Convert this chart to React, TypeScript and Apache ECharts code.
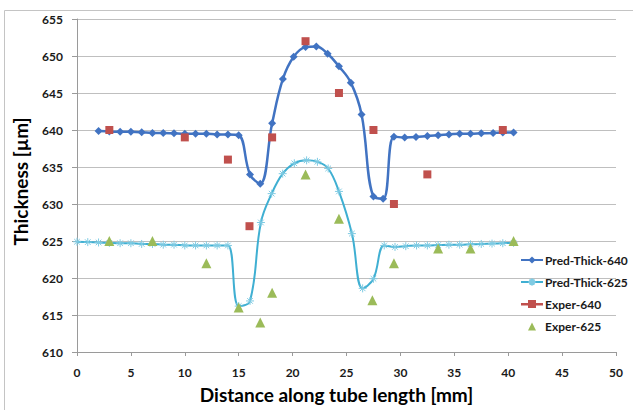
import React, { useEffect, useRef } from "react";
import * as echarts from "echarts";

const seriesNames = ["Pred-Thick-640", "Pred-Thick-625", "Exper-640", "Exper-625"];

const predThick640: [number, number][] = [
  [2, 639.85], [3, 639.8], [4, 639.75], [5, 639.75], [6, 639.7], [7, 639.6], [8, 639.6],
  [9, 639.55], [10, 639.5], [11, 639.5], [12, 639.5], [13, 639.4], [14, 639.4], [15, 639.3],
  [16.05, 634.0], [17.0, 632.75], [18.1, 640.9], [19.1, 646.9], [20.1, 649.9], [21.2, 651.2],
  [22.2, 651.3], [23.25, 650.3], [24.3, 648.6], [25.4, 646.4], [26.4, 642.1], [27.5, 631.0],
  [28.4, 630.7], [29.4, 639.1], [30.4, 639.0], [31.45, 639.05], [32.5, 639.2], [33.5, 639.3],
  [34.5, 639.4], [35.5, 639.5], [36.5, 639.5], [37.5, 639.55], [38.6, 639.6], [39.5, 639.65],
  [40.5, 639.65],
];

const predThick625: [number, number][] = [
  [0, 624.9], [1, 624.85], [2, 624.8], [3, 624.75], [4, 624.7], [5, 624.7], [6, 624.6],
  [7, 624.6], [8, 624.5], [9, 624.5], [10, 624.4], [11, 624.4], [12, 624.4], [13, 624.4],
  [14, 624.4], [15.0, 616.2], [16.05, 616.9], [17.06, 627.5], [18.06, 631.4], [19.08, 634.1],
  [20.16, 635.5], [21.3, 635.9], [22.3, 635.7], [23.3, 634.8], [24.3, 631.7], [25.5, 626.0],
  [26.5, 618.6], [27.5, 619.9], [28.5, 624.4], [29.5, 624.2], [30.5, 624.3], [31.5, 624.4],
  [32.5, 624.4], [33.5, 624.45], [34.5, 624.5], [35.5, 624.5], [36.5, 624.55], [37.5, 624.6],
  [38.5, 624.65], [39.5, 624.7], [40.5, 624.75],
];

const exper640: [number, number][] = [
  [3, 640], [10, 639], [14, 636], [16, 627], [18.1, 639], [21.2, 652], [24.3, 645],
  [27.5, 640], [29.4, 630], [32.5, 634], [39.5, 640],
];

const exper625: [number, number][] = [
  [3, 625], [7, 625], [12, 622], [15, 616], [17, 614], [18.1, 618], [21.2, 634],
  [24.3, 628], [27.4, 617], [29.4, 622], [33.5, 624], [36.5, 624], [40.5, 625],
];

const xTicks = { min: 0, max: 50, interval: 5 };
const yTicks = { min: 610, max: 655, interval: 5 };

const BLUE = "#4173C2";
const CYAN = "#3FAFD2";
const RED = "#C0504D";
const GREEN = "#9BBB59";
const FONT = "Lato, 'Open Sans', sans-serif";

const asterisk =
  "path://M0,5 L10,5 M5,0 L5,10 M1.5,1.5 L8.5,8.5 M8.5,1.5 L1.5,8.5";
const lineSquareIcon =
  "path://M0,3.6 L22,3.6 L22,5.9 L0,5.9 Z M7,0.5 L15,0.5 L15,8.5 L7,8.5 Z";
const smallTriangle = "path://M0,0 L22,0 L22,0.01 L0,0.01 Z M7,9 L11,1 L15,9 Z";

export default function App() {
  const ref = useRef<HTMLDivElement>(null);
  useEffect(() => {
    if (!ref.current) return;
    const chart = echarts.init(ref.current, undefined, { renderer: "svg" });
    chart.setOption({
      animation: false,
      backgroundColor: "#ffffff",
      textStyle: { fontFamily: FONT },
      grid: { left: 77, right: 17, top: 19, bottom: 58, containLabel: false },
      graphic: [
        {
          type: "rect",
          shape: { x: 4.5, y: 10.5, width: 700, height: 500 },
          style: { fill: "none", stroke: "#c4c4c4", lineWidth: 1 },
          silent: true,
          z: -10,
        },
      ],
      legend: {
        orient: "vertical",
        left: 520,
        top: 253,
        itemWidth: 22,
        itemHeight: 9,
        itemGap: 8,
        padding: 0,
        symbolKeepAspect: true,
        textStyle: {
          fontFamily: FONT,
          fontWeight: "bold",
          fontSize: 12,
          color: "#1a1a1a",
          lineHeight: 14,
          padding: [0, 0, 0, -3],
        },
        data: [
          { name: seriesNames[0] },
          { name: seriesNames[1] },
          { name: seriesNames[2], icon: lineSquareIcon, itemStyle: { color: RED } },
          { name: seriesNames[3], icon: smallTriangle, itemStyle: { color: GREEN } },
        ],
      },
      xAxis: {
        type: "value",
        min: xTicks.min,
        max: xTicks.max,
        interval: xTicks.interval,
        name: "Distance along tube length [mm]",
        nameLocation: "middle",
        nameGap: 33,
        nameTextStyle: {
          fontFamily: FONT,
          fontWeight: "bold",
          fontSize: 19,
          color: "#000",
          padding: [0, 20, 0, 0],
        },
        axisLine: { show: true, onZero: false, lineStyle: { color: "#9a9a9a", width: 1 } },
        axisTick: { show: true, inside: false, length: 4, lineStyle: { color: "#9a9a9a" } },
        axisLabel: {
          margin: 14,
          fontFamily: FONT,
          fontWeight: "bold",
          fontSize: 12,
          color: "#1a1a1a",
        },
        splitLine: { show: false },
      },
      yAxis: {
        type: "value",
        min: yTicks.min,
        max: yTicks.max,
        interval: yTicks.interval,
        name: "Thickness [µm]",
        nameLocation: "middle",
        nameGap: 47,
        nameRotate: 90,
        nameTextStyle: {
          fontFamily: FONT,
          fontWeight: "bold",
          fontSize: 19,
          color: "#000",
          padding: [0, 0, 0, 8],
        },
        axisLine: { show: true, lineStyle: { color: "#9a9a9a", width: 1 } },
        axisTick: { show: true, inside: false, length: 5, lineStyle: { color: "#9a9a9a" } },
        axisLabel: {
          margin: 14,
          fontFamily: FONT,
          fontWeight: "bold",
          fontSize: 12,
          color: "#1a1a1a",
        },
        splitLine: { show: true, lineStyle: { color: "#bfbfbf", width: 1 } },
      },
      series: [
        {
          name: seriesNames[0],
          type: "line",
          data: predThick640,
          smooth: 0.4,
          symbol: "diamond",
          symbolSize: 8,
          lineStyle: { color: BLUE, width: 2.5 },
          itemStyle: { color: BLUE },
          z: 2,
        },
        {
          name: seriesNames[1],
          type: "line",
          data: predThick625,
          smooth: 0.4,
          symbol: asterisk,
          symbolSize: 8,
          lineStyle: { color: CYAN, width: 2 },
          itemStyle: { color: CYAN, borderColor: "#7fcbe3", borderWidth: 1 },
          z: 2,
        },
        {
          name: seriesNames[2],
          type: "scatter",
          data: exper640,
          symbol: "rect",
          symbolSize: 8,
          itemStyle: { color: RED, opacity: 1 },
          z: 3,
        },
        {
          name: seriesNames[3],
          type: "scatter",
          data: exper625,
          symbol: "triangle",
          symbolSize: 10,
          itemStyle: { color: GREEN, opacity: 1 },
          z: 3,
        },
      ],
    });
    return () => chart.dispose();
  }, []);
  return (
    <div
      ref={ref}
      style={{ position: "fixed", left: 0, top: 0, width: 633, height: 410 }}
    />
  );
}
